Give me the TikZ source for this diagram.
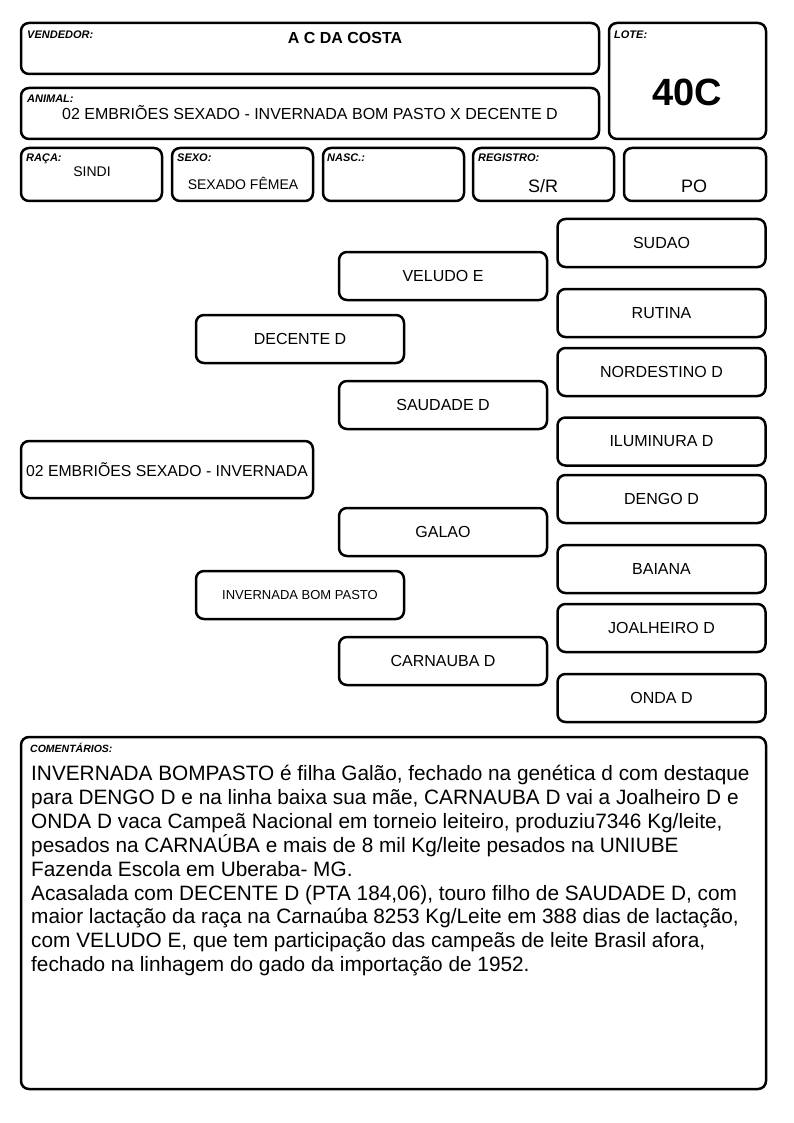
\documentclass[tikz,border=0pt]{standalone}
\usepackage{fontspec}
\setmainfont{Liberation Sans}
\begin{document}
\begin{tikzpicture}[x=1pt,y=-1pt,
  box/.style={draw=black,line width=2.5pt,rounded corners=8pt,inner sep=0pt},
  lbl/.style={font=\fontsize{11}{13}\selectfont\bfseries\itshape,anchor=base west,inner sep=0pt},
  ped/.style={box,minimum width=208pt,minimum height=48pt,font=\fontsize{16}{19}\selectfont},
  val/.style={inner sep=0pt,font=\fontsize{15}{18}\selectfont}]
\useasboundingbox (0,0) rectangle (794,1123);
\fill[white] (0,0) rectangle (794,1123);
% header boxes
\draw[box] (21,23) rectangle (599,74);
\draw[box] (609,23) rectangle (766,139);
\draw[box] (21,88) rectangle (599,139);
\draw[box] (21,148) rectangle (162,201);
\draw[box] (172,148) rectangle (313,201);
\draw[box] (323,148) rectangle (464,201);
\draw[box] (473,148) rectangle (614,201);
\draw[box] (624,148) rectangle (766,201);
\node[lbl] (lvend) at (27,39) {VENDEDOR:};
\node[inner sep=0pt,font=\fontsize{16}{19}\selectfont\bfseries] (vend) at (345,38) {A C DA COSTA};
\node[lbl] (llote) at (614,39) {LOTE:};
\node[inner sep=0pt,font=\fontsize{38}{44}\selectfont\bfseries] (lote) at (687,92) {40C};
\node[lbl] (lanim) at (27,103) {ANIMAL:};
\node[inner sep=0pt,font=\fontsize{16}{19}\selectfont] (anim) at (310,113) {02 EMBRIÕES SEXADO - INVERNADA BOM PASTO X DECENTE D};
\node[lbl] (lraca) at (26,162) {RAÇA:};
\node[val,font=\fontsize{14}{17}\selectfont] (raca) at (92,172) {SINDI};
\node[lbl] (lsexo) at (177,162) {SEXO:};
\node[val,font=\fontsize{14}{17}\selectfont] (sexo) at (243,183) {SEXADO FÊMEA};
\node[lbl] (lnasc) at (327,162) {NASC.:};
\node[lbl] (lreg) at (478,162) {REGISTRO:};
\node[val,font=\fontsize{18}{21}\selectfont] (reg) at (543,186) {S/R};
\node[val,font=\fontsize{18}{21}\selectfont] (po) at (694,186) {PO};
% pedigree
\node[ped] (sudao) at (661.5,243) {SUDAO};
\node[ped] (veludo) at (443,276) {VELUDO E};
\node[ped] (rutina) at (661.5,313) {RUTINA};
\node[ped] (decente) at (300,339) {DECENTE D};
\node[ped] (nord) at (661.5,372) {NORDESTINO D};
\node[ped] (saudade) at (443,405) {SAUDADE D};
\node[ped] (ilum) at (661.5,441.5) {ILUMINURA D};
\node[ped,minimum width=292pt,minimum height=57pt,font=\fontsize{15.8}{19}\selectfont] (animal) at (167,469.5) {02 EMBRIÕES SEXADO - INVERNADA};
\node[ped] (dengo) at (661.5,499) {DENGO D};
\node[ped] (galao) at (443,532) {GALAO};
\node[ped] (baiana) at (661.5,569) {BAIANA};
\node[ped,font=\fontsize{13}{16}\selectfont] (invernada) at (300,595) {INVERNADA BOM PASTO};
\node[ped] (joal) at (661.5,628) {JOALHEIRO D};
\node[ped] (carnauba) at (443,661) {CARNAUBA D};
\node[ped] (onda) at (661.5,698) {ONDA D};
% comments
\draw[box] (21,737) rectangle (766,1089);
\node[lbl,font=\fontsize{10.5}{12}\selectfont\bfseries\itshape] (lcom) at (30,752) {COMENTÁRIOS:};
\node[anchor=north west,inner sep=0pt,align=left,font=\fontsize{20.8}{23.9}\selectfont] (com) at (31,765) {INVERNADA BOMPASTO é filha Galão, fechado na genética d com destaque\\
para DENGO D e na linha baixa sua mãe, CARNAUBA D vai a Joalheiro D e\\
ONDA D vaca Campeã Nacional em torneio leiteiro, produziu7346 Kg/leite,\\
pesados na CARNAÚBA e mais de 8 mil Kg/leite pesados na UNIUBE\\
Fazenda Escola em Uberaba- MG.\\
Acasalada com DECENTE D (PTA 184,06), touro filho de SAUDADE D, com\\
maior lactação da raça na Carnaúba 8253 Kg/Leite em 388 dias de lactação,\\
com VELUDO E, que tem participação das campeãs de leite Brasil afora,\\
fechado na linhagem do gado da importação de 1952.};
\end{tikzpicture}
\end{document}
